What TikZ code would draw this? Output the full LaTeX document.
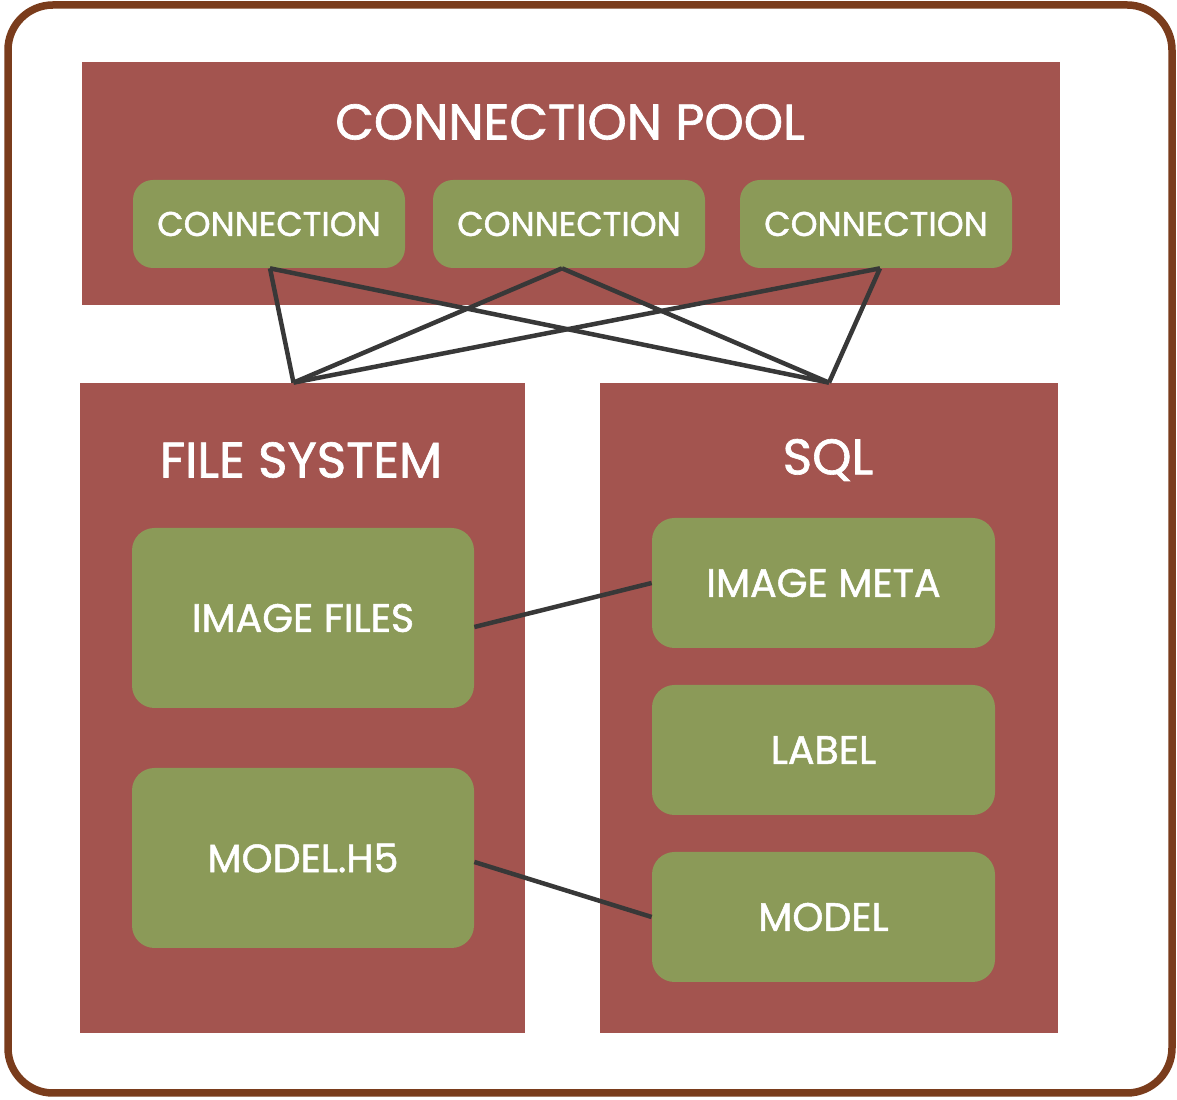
\documentclass[tikz,border=0pt]{standalone}
\usepackage{fontspec}
\usepackage{xcolor}
\usetikzlibrary{positioning}
\newfontfamily\futurafont[FakeBold=1.3]{Poppins}
\definecolor{poolred}{HTML}{A3544F}
\definecolor{boxgreen}{HTML}{8B9A58}
\definecolor{framebrown}{HTML}{7A3C1C}
\definecolor{wiregray}{HTML}{383838}

\begin{document}
\begin{tikzpicture}[
  store/.style={fill=poolred, draw=none, inner sep=0pt},
  item/.style={fill=boxgreen, draw=none, rounded corners=0.45cm, inner sep=0pt,
    text=white, font=\futurafont\fontsize{22.5}{25}\selectfont},
  conn/.style={item, rounded corners=0.4cm, minimum width=5.44cm, minimum height=1.76cm,
    font=\futurafont\fontsize{19.5}{22}\selectfont},
  title/.style={text=white, font=\futurafont\fontsize{28.5}{31}\selectfont},
  wire/.style={draw=wiregray, line width=0.09cm}
]
  \useasboundingbox (0,0) rectangle (23.54,22);
  \draw[framebrown, line width=0.15cm, rounded corners=0.9cm] (0.16,0.14) rectangle (23.44,21.9);

  % containers
  \node[store, minimum width=19.56cm, minimum height=4.86cm] (pool) at (11.42,18.33) {};
  \node[store, minimum width=8.9cm, minimum height=13cm] (fs) at (6.05,7.84) {};
  \node[store, minimum width=9.16cm, minimum height=13cm] (sql) at (16.58,7.84) {};

  \node[title] (pooltitle) at (11.4,19.56) {CONNECTION POOL};
  \node[title] (fstitle) at (6.02,12.8) {FILE SYSTEM};
  \node[title] (sqltitle) at (16.56,12.8) {SQL};

  % connections
  \node[conn] (conna) at (5.38,17.52) {CONNECTION};
  \node[conn] (connb) at (11.38,17.52) {CONNECTION};
  \node[conn] (connc) at (17.52,17.52) {CONNECTION};

  % stored items
  \node[item, minimum width=6.84cm, minimum height=3.6cm] (images) at (6.06,9.64) {IMAGE FILES};
  \node[item, minimum width=6.84cm, minimum height=3.6cm] (weights) at (6.06,4.84) {MODEL.H5};
  \node[item, minimum width=6.86cm, minimum height=2.6cm] (meta) at (16.47,10.34) {IMAGE META};
  \node[item, minimum width=6.86cm, minimum height=2.6cm] (label) at (16.47,7.0) {LABEL};
  \node[item, minimum width=6.86cm, minimum height=2.6cm] (model) at (16.47,3.66) {MODEL};

  \coordinate (fsport) at ([xshift=-0.18cm]fs.north);
  \coordinate (sqlport) at (sql.north);
  \foreach \c/\dx in {conna/0.02,connb/-0.14,connc/0.08} {
    \draw[wire] ([xshift=\dx cm]\c.south) -- (fsport);
    \draw[wire] ([xshift=\dx cm]\c.south) -- (sqlport);
  }
  \draw[wire] ([yshift=-0.18cm]images.east) -- (meta.west);
  \draw[wire] ([yshift=-0.08cm]weights.east) -- (model.west);
\end{tikzpicture}
\end{document}
